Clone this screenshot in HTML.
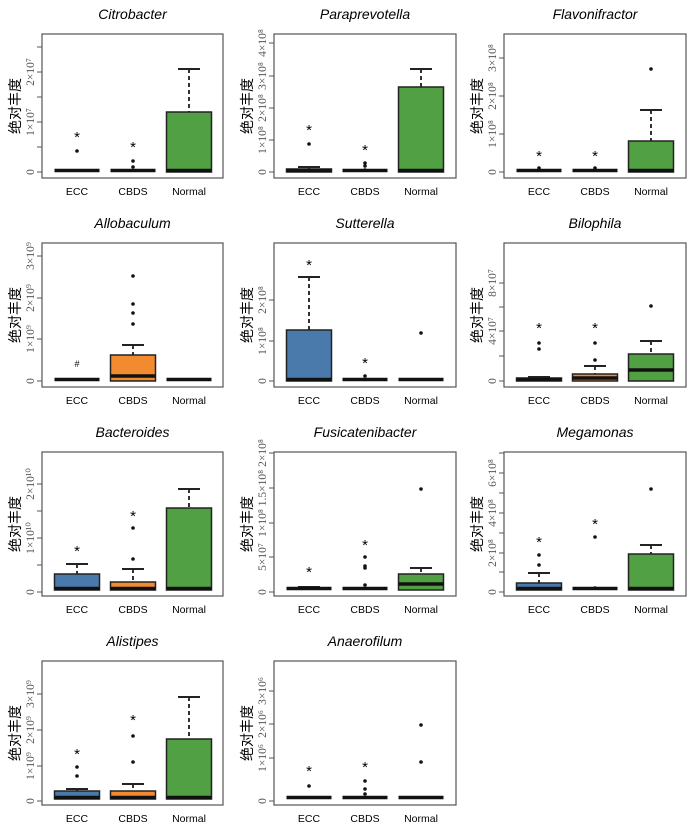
<!DOCTYPE html>
<html><head><meta charset="utf-8"><style>
body{margin:0;background:#fff;width:700px;height:826px;overflow:hidden}
svg{display:block}
</style></head><body>
<svg id="s" width="700" height="826" xmlns="http://www.w3.org/2000/svg" font-family="Liberation Sans, sans-serif"></svg>
<script>
const C={E:'#4a7aab',C:'#f28a30',N:'#52a044'};
const colsL=[42,274,504], colsW=[181,182,182];
const rowsT=[34,243,452,661];
const P=[
["Citrobacter",0,0,[[172,"0"],[122,"1×10⁷"],[72,"2×10⁷"]],[147,97,47],
 [[172,172,null,135,[151]],[172,172,null,145,[161,167]],[112,171,69,null,[]]]],
["Paraprevotella",1,0,[[172,"0"],[140,"1×10⁸"],[108,"2×10⁸"],[76,"3×10⁸"],[43,"4×10⁸"]],[],
 [[169,172,167,128,[144]],[172,172,null,148,[163,166,170]],[87,171,69,null,[]]]],
["Flavonifractor",2,0,[[172,"0"],[134,"1×10⁸"],[96,"2×10⁸"],[58,"3×10⁸"]],[],
 [[172,172,null,154,[168]],[171,172,null,154,[168]],[141,171,110,null,[69]]]],
["Allobaculum",0,1,[[381,"0"],[339,"1×10⁹"],[298,"2×10⁹"],[256,"3×10⁹"]],[],
 [[381,381,null,null,[]],[355,376,345,null,[324,313,304,276]],[381,381,null,null,[]]],1],
["Sutterella",1,1,[[381,"0"],[341,"1×10⁸"],[300,"2×10⁸"]],[],
 [[330,380,277,263,[]],[381,381,null,361,[376]],[381,381,null,null,[333]]]],
["Bilophila",2,1,[[381,"0"],[331,"4×10⁷"],[283,"8×10⁷"]],[356,307],
 [[378,380,377,326,[343,349]],[374,378,366,326,[343,360]],[354,370,341,null,[306]]]],
["Bacteroides",0,2,[[592,"0"],[538,"1×10¹⁰"],[484,"2×10¹⁰"]],[565,511],
 [[574,589,564,549,[]],[582,590,569,514,[528,559]],[508,590,489,null,[]]]],
["Fusicatenibacter",1,2,[[592,"0"],[557,"5×10⁷"],[523,"1×10⁸"],[488,"1.5×10⁸"],[453,"2×10⁸"]],[],
 [[589,591,587,570,[]],[589,591,589,543,[557,566,568,585]],[574,584,568,null,[489]]]],
["Megamonas",2,2,[[592,"0"],[553,"2×10⁸"],[513,"4×10⁸"],[473,"6×10⁸"]],[572,533,493,453],
 [[583,591,573,540,[555,565]],[591,592,null,522,[537,588]],[554,589,545,null,[489]]]],
["Alistipes",0,3,[[801,"0"],[766,"1×10⁹"],[730,"2×10⁹"],[694,"3×10⁹"]],[],
 [[791,798,789,752,[767,776]],[791,798,784,718,[736,762]],[739,798,697,null,[]]]],
["Anaerofilum",1,3,[[801,"0"],[758,"1×10⁶"],[724,"2×10⁶"],[691,"3×10⁶"]],[],
 [[801,801,null,769,[786]],[801,801,null,765,[781,789,794]],[797,800,null,null,[762,725]]]],
];
let h='';
const cols=[C.E,C.C,C.N],names=["ECC","CBDS","Normal"];
for(const p of P){
 const [t,c,r,ticks,minor,g,hash]=p;
 const L=colsL[c],W=colsW[c],T=rowsT[r],B=T+144;
 h+=`<text x="${L+W/2}" y="${T-15}" text-anchor="middle" font-size="14" font-style="italic">${t}</text>`;
 h+=`<rect x="${L}" y="${T}" width="${W}" height="144" fill="none" stroke="#555" stroke-width="1.2"/>`;
 h+=`<text transform="translate(${L-22},${T+72}) rotate(-90)" text-anchor="middle" font-size="14" font-family="Noto Sans CJK SC, sans-serif">绝对丰度</text>`;
 for(const [y,l] of ticks){h+=`<line x1="${L-5}" x2="${L}" y1="${y}" y2="${y}" stroke="#555"/>`;
  h+=`<text transform="translate(${L-8},${y}) rotate(-90)" text-anchor="middle" font-size="11.5" fill="#555" font-family="Liberation Serif, serif">${l}</text>`;}
 for(const y of minor)h+=`<line x1="${L-5}" x2="${L}" y1="${y}" y2="${y}" stroke="#555"/>`;
 g.forEach((d,i)=>{
  const cx=L+35+56*i,bw=45,[bt,md,wh,st,pts]=d,Z=B-6;
  if(wh!==null){h+=`<line x1="${cx}" x2="${cx}" y1="${wh}" y2="${bt}" stroke="#333" stroke-width="2" stroke-dasharray="4,3"/><line x1="${cx-11}" x2="${cx+11}" y1="${wh}" y2="${wh}" stroke="#222" stroke-width="2"/>`;}
  if(Z-bt>2)h+=`<rect x="${cx-bw/2}" y="${bt}" width="${bw}" height="${Z-bt}" fill="${cols[i]}" stroke="#222" stroke-width="1.5"/>`;
  h+=`<line x1="${cx-bw/2}" x2="${cx+bw/2}" y1="${Math.min(md,Z-1.5)}" y2="${Math.min(md,Z-1.5)}" stroke="#111" stroke-width="3.5"/>`;
  for(const y of pts)h+=`<circle cx="${cx}" cy="${y}" r="1.8" fill="#111"/>`;
  if(st!==null)h+=`<text x="${cx}" y="${st+7}" text-anchor="middle" font-size="15">*</text>`;
  if(hash&&i==0)h+=`<text x="${cx}" y="${367}" text-anchor="middle" font-size="9">#</text>`;
  h+=`<text x="${cx}" y="${B+17}" text-anchor="middle" font-size="10.5">${names[i]}</text>`;
 });
}
document.getElementById('s').innerHTML=h;
</script>
</body></html>
